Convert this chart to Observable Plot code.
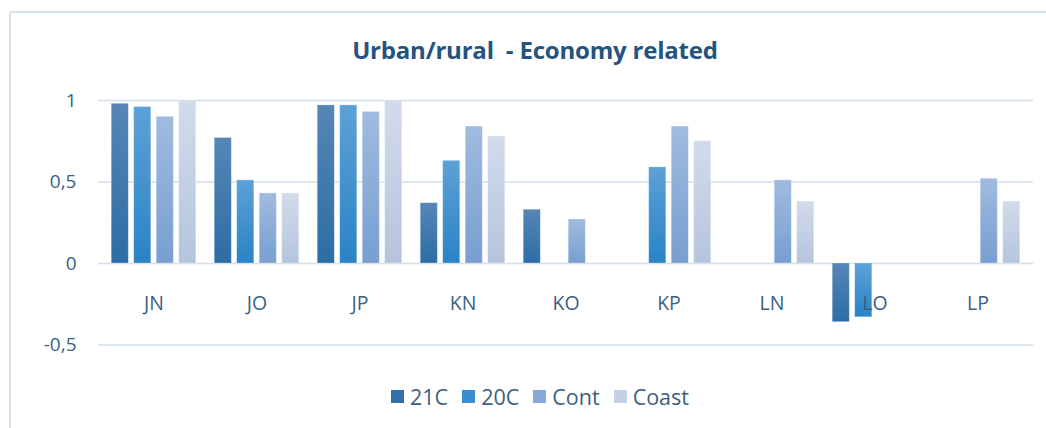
<!DOCTYPE html>
<html>
<head>
<meta charset="utf-8">
<script src="https://cdn.jsdelivr.net/npm/d3@7"></script>
<script src="https://cdn.jsdelivr.net/npm/@observablehq/plot@0.6"></script>
<style>
  html, body { margin: 0; padding: 0; background: #fff; }
  #wrap { position: relative; width: 1046px; height: 428px; overflow: hidden; font-family: "Open Sans", sans-serif; }
  #frame { position: absolute; left: 9px; top: 11px; width: 1100px; height: 500px; border-left: 2px solid #d8e3ec; border-top: 2px solid #d8e3ec; box-sizing: border-box; }
  #title { position: absolute; top: 0; left: 0; width: 1046px; height: 80px; box-sizing: border-box; padding-left: 24px; text-align: center; line-height: 100px; font-size: 24px; font-weight: 700; color: #24537f; letter-spacing: -0.2px; }
  #chart { position: absolute; top: 80px; left: 0; }
  #legend { position: absolute; top: 368px; left: 0; width: 1046px; height: 56px; display: flex; justify-content: center; align-items: center; padding-left: 34px; box-sizing: border-box; font-size: 21.5px; color: #3b5f80; }
  .item { display: flex; align-items: center; margin: 0 7px; }
  .sw { width: 13px; height: 13px; margin-right: 6px; }
</style>
</head>
<body>
<div id="wrap">
  <div id="frame"></div>
  <div id="title">Urban/rural&nbsp; - Economy related</div>
  <div id="chart"></div>
  <div id="legend"></div>
</div>
<script>
const categories = ["JN", "JO", "JP", "KN", "KO", "KP", "LN", "LO", "LP"];
const series = ["21C", "20C", "Cont", "Coast"];
const v21C  = [0.98, 0.77, 0.97, 0.37, 0.33, null, null, -0.36, null];
const v20C  = [0.96, 0.51, 0.97, 0.63, null, 0.59, null, -0.33, null];
const vCont = [0.90, 0.43, 0.93, 0.84, 0.27, 0.84, 0.51, null, 0.52];
const vCoast = [1.00, 0.43, 1.00, 0.78, null, 0.75, 0.38, null, 0.38];
const yTicks = [-0.5, 0, 0.5, 1];
const yTickLabels = ["-0,5", "0", "0,5", "1"];

const seriesValues = [v21C, v20C, vCont, vCoast];
const gradStops = [["#5686b6", "#2c6da5"], ["#5da1d7", "#2a83c5"], ["#a0bbdf", "#779fd0"], ["#d2dbeb", "#b5c4dd"]];
const swatch = ["#3370a8", "#3a8ecf", "#86a9d7", "#c4d0e4"];

const rows = [];
series.forEach((s, si) => {
  categories.forEach((c, ci) => {
    const v = seriesValues[si][ci];
    if (v != null) rows.push({category: c, series: s, value: v});
  });
});

const width = 1046, marginLeft = 98, marginRight = 13;
const step = (width - marginLeft - marginRight) / categories.length;
const barW = 18, barStep = 22.5, groupOff = (step - (barStep * 3 + barW)) / 2;

const barMarks = series.map((s, i) => {
  const left = groupOff + i * barStep;
  return Plot.barY(rows.filter(d => d.series === s), {
    x: "category", y: "value", fill: "series",
    insetLeft: left, insetRight: step - left - barW,
    stroke: "#ffffff", strokeOpacity: 0.35, strokeWidth: 0.8
  });
});

const chart = Plot.plot({
  width, height: 290,
  marginLeft, marginRight, marginTop: 20, marginBottom: 25.5,
  style: {fontFamily: "Open Sans, sans-serif", background: "transparent"},
  x: {domain: categories, padding: 0, axis: null},
  y: {domain: [-0.5, 1], label: null},
  color: {type: "ordinal", domain: series, range: series.map((s, i) => `url(#grad${i})`)},
  marks: [
    Plot.gridY(yTicks, {stroke: "#d3dfea", strokeOpacity: 1, strokeWidth: 1.6}),
    Plot.axisY(yTicks, {tickSize: 0, tickPadding: 22, tickFormat: d => yTickLabels[yTicks.indexOf(d)], fontSize: 19, fill: "#3b5f80", label: null}),
    ...barMarks,
    Plot.text(categories, {x: d => d, y: () => 0, dy: 40, text: d => d, fontSize: 19.5, fill: "#3b5f80"})
  ]
});

const svg = d3.select(chart);
const defs = svg.insert("defs", ":first-child");
gradStops.forEach((g, i) => {
  const lg = defs.append("linearGradient").attr("id", `grad${i}`).attr("x1", 0).attr("y1", 0).attr("x2", 0).attr("y2", 1);
  lg.append("stop").attr("offset", "0%").attr("stop-color", g[0]);
  lg.append("stop").attr("offset", "100%").attr("stop-color", g[1]);
});
document.getElementById("chart").appendChild(chart);

const legend = d3.select("#legend");
series.forEach((s, i) => {
  const it = legend.append("div").attr("class", "item");
  it.append("div").attr("class", "sw").style("background", swatch[i]);
  it.append("span").text(s);
});
</script>
</body>
</html>
